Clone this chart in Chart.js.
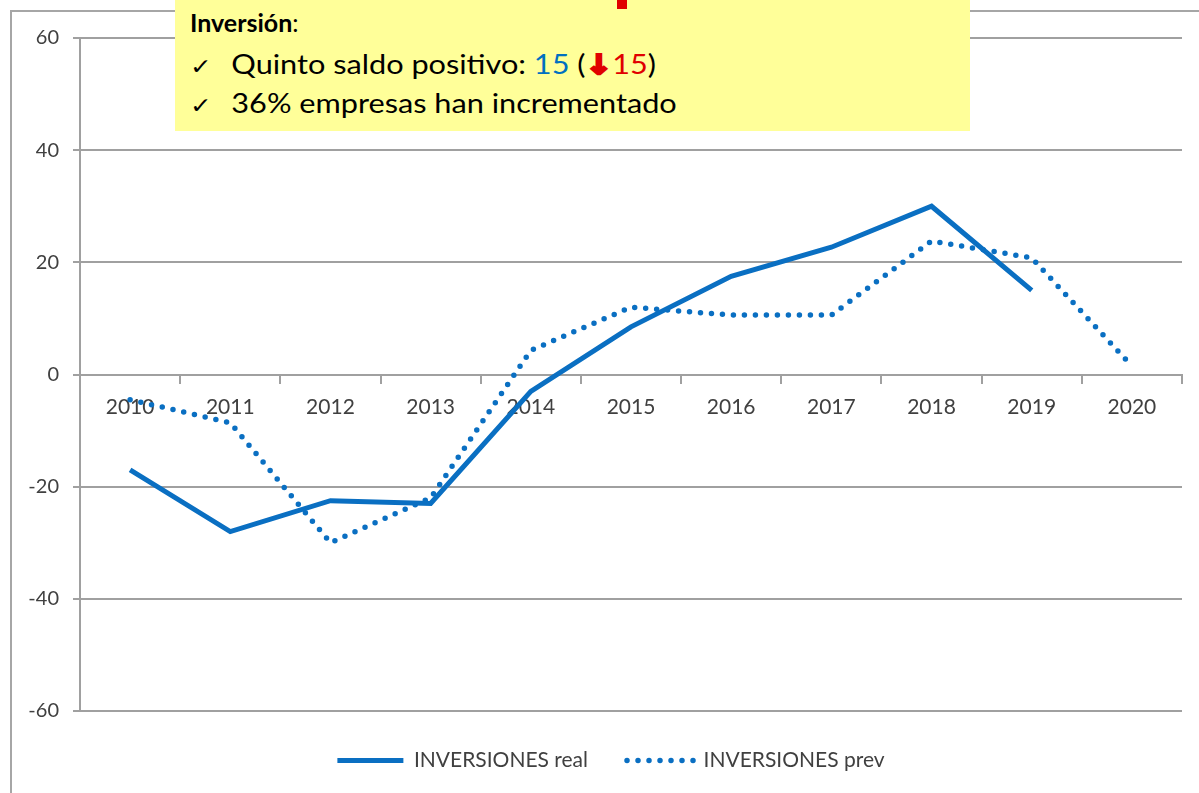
<!DOCTYPE html>
<html>
<head>
    <title>Inversiones</title>
    <script src="https://cdn.jsdelivr.net/npm/chart.js"></script>
    <style>
        body { margin: 0; background: #fff; font-family: Lato, sans-serif; }
        #frame { position: absolute; left: 10px; top: 10px; width: 1200px; height: 800px; border-left: 2px solid #a6a6a6; border-top: 2px solid #a6a6a6; }
        #wrap { position: absolute; left: 0; top: 0; width: 1199px; height: 793px; }
        #note { position: absolute; left: 175px; top: 0; width: 795px; height: 131px; background: #ffff99; color: #000; }
        #note .head { position: absolute; left: 15px; top: 7px; font-size: 25px; }
        #note .row { position: absolute; left: 15px; font-size: 26px; white-space: nowrap; transform: scaleX(1.18); transform-origin: left center; }
        #note .ck { display: inline-block; width: 35px; font-family: 'DejaVu Sans', sans-serif; font-size: 22px; }
        #note .arr { font-family: 'DejaVu Sans', sans-serif; font-weight: bold; color: #e00000; -webkit-text-stroke: 2.5px #e00000; font-size: 27px; line-height: 1; }
        #cut { position: absolute; left: 617px; top: 0; width: 10px; height: 9px; background: #e00000; }
    </style>
</head>
<body>
    <div id="frame"></div>
    <div id="wrap"><canvas id="chart" width="1199" height="793"></canvas></div>
    <div id="note">
        <div class="head"><b>Inversión</b>:</div>
        <div class="row" style="top:48px"><span class="ck">✓</span>Quinto saldo positivo: <span style="color:#0070c0">15</span> (<span class="arr">↓</span><span style="color:#e00000">15</span>)</div>
        <div class="row" style="top:87px"><span class="ck">✓</span>36% empresas han incrementado</div>
    </div>
    <div id="cut"></div>

    <script>
        const years = ['2010', '2011', '2012', '2013', '2014', '2015', '2016', '2017', '2018', '2019', '2020'];
        const realValues = [-17, -28, -22.5, -23, -3, 8.5, 17.5, 22.7, 30, 15, null];
        const prevValues = [-4.5, -8.6, -30, -22, 4.3, 12, 10.6, 10.6, 23.8, 20.8, 1.5];
        const yTicks = [-60, -40, -20, 0, 20, 40, 60];

        const blue = '#0a6fc2';
        const gray = '#a0a0a0';
        const textColor = '#404040';

        // nudge the legend a bit to the right, like in the original
        const legendShift = {
            id: 'legendShift',
            afterLayout(chart) {
                chart.legend.left += 30;
            }
        };

        const ctx = document.getElementById('chart').getContext('2d');
        const chart = new Chart(ctx, {
            type: 'line',
            data: {
                labels: years,
                datasets: [{
                    label: 'INVERSIONES real',
                    data: realValues,
                    borderColor: blue,
                    backgroundColor: 'rgba(0,0,0,0)',
                    borderWidth: 5,
                    pointRadius: 0,
                    tension: 0
                }, {
                    label: 'INVERSIONES prev',
                    data: prevValues,
                    borderColor: blue,
                    backgroundColor: 'rgba(0,0,0,0)',
                    borderWidth: 5.5,
                    borderDash: [0, 11],
                    borderCapStyle: 'round',
                    pointRadius: 0,
                    tension: 0
                }]
            },
            options: {
                responsive: false,
                animation: false,
                layout: { padding: { left: 10, right: 17, top: 38, bottom: 12 } },
                plugins: {
                    tooltip: { enabled: false },
                    legend: {
                        position: 'bottom',
                        labels: {
                            boxWidth: 66,
                            boxHeight: 0,
                            padding: 39,
                            color: textColor,
                            font: { family: 'Lato', size: 21 }
                        }
                    }
                },
                scales: {
                    x: {
                        type: 'category',
                        position: { y: 0 },
                        offset: true,
                        grid: {
                            offset: true,
                            drawOnChartArea: false,
                            drawTicks: true,
                            tickLength: 8,
                            color: gray,
                            lineWidth: 2
                        },
                        border: { display: true, color: gray, width: 2 },
                        ticks: {
                            color: textColor,
                            padding: 12,
                            maxRotation: 0,
                            font: { family: 'Lato', size: 21 }
                        }
                    },
                    y: {
                        min: -60,
                        max: 60,
                        afterBuildTicks: (scale) => {
                            scale.ticks = yTicks.map(v => ({ value: v }));
                        },
                        afterFit: (scale) => { scale.width = 70; },
                        grid: {
                            color: gray,
                            lineWidth: 2,
                            tickLength: 7
                        },
                        border: { display: true, color: gray, width: 2 },
                        ticks: {
                            color: textColor,
                            padding: 14,
                            font: { family: 'Lato', size: 20 }
                        }
                    }
                }
            },
            plugins: [legendShift]
        });
    </script>
</body>
</html>
